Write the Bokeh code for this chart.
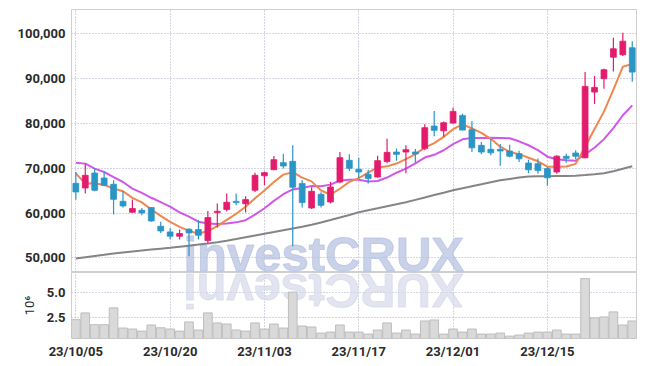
import math
from bokeh.plotting import figure
from bokeh.models import Range1d, FixedTicker, NumeralTickFormatter, Label, ColumnDataSource
from bokeh.layouts import column
from bokeh.embed import file_html
from bokeh.resources import INLINE

# ---------------- data ----------------
tick_idx = [0, 10, 20, 30, 40, 50]
tick_labels = ["23/10/05", "23/10/20", "23/11/03", "23/11/17", "23/12/01", "23/12/15"]

opens = [66650, 65610, 68950, 67840, 66430, 62640, 60190, 60640, 61240, 57070,
         55800, 54840, 56400, 56330, 53880, 60120, 60790, 62640, 62090, 65100,
         68330, 69710, 71270, 71560, 66590, 61150, 64200, 62490, 66950, 71790,
         69780, 68670, 68060, 71500, 73640, 73640, 73640, 74400, 79440, 78370,
         80110, 81820, 78630, 75130, 74240, 74240, 73860, 73280, 71190, 71050,
         69940, 69180, 72680, 73420, 72350, 87020, 90010, 94820, 95360, 96920]
highs = [69180, 71050, 69940, 69180, 67330, 64940, 63020, 61150, 61300, 58070,
         56690, 56330, 56620, 58410, 60480, 62130, 64360, 64360, 63760, 69040,
         69270, 72750, 73280, 75130, 67330, 65770, 64650, 66950, 73640, 73130,
         72390, 69670, 72800, 76630, 74400, 75130, 74300, 79820, 82780, 80480,
         83500, 82200, 80550, 75870, 76630, 75420, 75290, 73950, 71940, 72170,
         70290, 72900, 73280, 74020, 91480, 90630, 92240, 99150, 100260, 98390]
lows = [63000, 64360, 64870, 66000, 59680, 61240, 60100, 59520, 58100, 55580,
        54170, 54100, 50380, 54100, 53210, 56780, 60350, 61750, 60120, 64720,
        66210, 69560, 69940, 52610, 61240, 60930, 61240, 62130, 66660, 69400,
        67770, 66590, 67930, 71120, 71680, 68890, 71230, 74020, 77140, 77030,
        79970, 78480, 73640, 73130, 72900, 70560, 72460, 71410, 68890, 68780,
        66100, 68780, 71230, 72010, 72230, 84340, 87780, 91630, 95090, 89340]
closes = [64720, 68440, 65100, 66210, 63090, 61600, 61020, 60040, 58250, 56020,
          54840, 55440, 55580, 55060, 59010, 60410, 62420, 62350, 63020, 68440,
          69040, 71940, 70520, 65770, 62350, 64870, 61750, 65830, 72390, 70000,
          69180, 67710, 71720, 73570, 73130, 74170, 73190, 79080, 78480, 80190,
          82710, 78540, 74580, 73640, 73460, 73860, 72720, 72120, 69670, 69490,
          67890, 72720, 72230, 72680, 88290, 88070, 92010, 96700, 98390, 91480]
volumes = [2.26, 2.95, 1.75, 1.75, 3.46, 1.41, 1.31, 1.10, 1.72, 1.44,
           1.31, 1.10, 2.03, 1.21, 2.95, 1.93, 1.82, 1.21, 1.10, 1.93,
           1.31, 1.82, 1.41, 5.06, 1.62, 1.52, 0.90, 1.00, 1.72, 1.00,
           1.00, 0.80, 1.21, 1.93, 0.90, 1.21, 0.80, 2.13, 2.23, 0.80,
           1.31, 1.00, 1.31, 0.80, 0.80, 0.90, 0.59, 0.70, 0.90, 1.00,
           1.00, 1.21, 0.80, 0.80, 6.43, 2.44, 2.54, 3.05, 1.72, 2.13]
ma5 = [68890, 66600, 66650, 66300, 65510, 64890, 63400, 62390, 60800, 59380,
       58030, 56920, 56030, 55390, 55990, 57100, 58500, 59850, 61440, 63330,
       65060, 66960, 68590, 69140, 67930, 67090, 65050, 64120, 65440, 66970,
       67830, 69020, 70200, 70440, 71060, 72060, 73160, 74630, 75610, 77020,
       78730, 79800, 78900, 77930, 76590, 74820, 73650, 73160, 72370, 71570,
       70380, 70380, 70400, 71000, 74760, 78800, 82660, 87550, 92690, 93330]
ma10 = [71270, 71050, 69940, 69180, 68060, 66950, 65480, 64540, 63430, 62450,
        61460, 60160, 59210, 58090, 57690, 57570, 57710, 57940, 58420, 59660,
        61080, 62730, 64220, 65290, 65630, 66070, 66010, 66360, 67290, 67450,
        67460, 67040, 67160, 67940, 69020, 69950, 71090, 72410, 73020, 74040,
        75400, 76480, 76760, 76770, 76810, 76770, 76730, 76030, 75150, 74080,
        72600, 72020, 71780, 71690, 73170, 74590, 76520, 78970, 81850, 84050]
ma60 = [49870, 50160, 50450, 50710, 50980, 51230, 51450, 51670, 51870, 52070,
        52270, 52500, 52720, 52970, 53230, 53500, 53840, 54210, 54620, 55000,
        55400, 55780, 56180, 56580, 56980, 57400, 57920, 58450, 59010, 59590,
        60190, 60640, 61080, 61530, 61980, 62420, 62960, 63490, 64030, 64560,
        65100, 65540, 65990, 66430, 66880, 67330, 67640, 67930, 68150, 68220,
        68260, 68290, 68310, 68330, 68490, 68670, 68890, 69330, 69890, 70450]

# ---------------- styling ----------------
UP = "#e31b6d"
DOWN = "#2b95c6"
LBL_FONT = "Roboto"
LBL_SIZE = "13px"
LBL_COLOR = "#2a2a2a"
GRID = "#a9aec6"
PRICE_RANGE = (46744, 105460)
VOL_RANGE = (0.35, 7.05)

idx = list(range(len(closes)))
src = ColumnDataSource(dict(
    x=idx, o=opens, h=highs, l=lows, c=closes,
    top=[max(a, b) for a, b in zip(opens, closes)],
    bot=[min(a, b) for a, b in zip(opens, closes)],
    col=[UP if c >= o else DOWN for o, c in zip(opens, closes)],
    v=volumes, ma5=ma5, ma10=ma10, ma60=ma60,
))

xr = Range1d(-0.46, 59.45)

p = figure(width=640, height=272, x_range=xr, y_range=Range1d(*PRICE_RANGE),
           output_backend="svg", toolbar_location=None, x_axis_location=None,
           min_border_left=71, min_border_right=4, min_border_top=9, min_border_bottom=0)
p.outline_line_color = "#cfcfcf"
p.yaxis.ticker = FixedTicker(ticks=[50000, 60000, 70000, 80000, 90000, 100000])
p.yaxis.formatter = NumeralTickFormatter(format="0,0")
p.yaxis.axis_line_color = None
p.yaxis.major_tick_line_color = None
p.yaxis.minor_tick_line_color = None
p.yaxis.major_tick_out = 0
p.yaxis.major_label_standoff = 6
p.yaxis.major_label_text_font = LBL_FONT
p.yaxis.major_label_text_font_size = LBL_SIZE
p.yaxis.major_label_text_font_style = "bold"
p.yaxis.major_label_text_color = LBL_COLOR
p.xgrid.ticker = FixedTicker(ticks=tick_idx)
for g in (p.xgrid, p.ygrid):
    g.grid_line_color = GRID
    g.grid_line_dash = "1 2"
    g.grid_line_width = 1

# watermark (decoration): letters standing on the bottom edge of the price panel
p.add_layout(Label(x=112, x_units="screen", y=18.5, y_units="screen",
                   text="investCRUX", level="underlay",
                   text_font="Liberation Sans", text_font_style="bold", text_font_size="49px",
                   text_color="#b6c1e1", text_alpha=0.72,
                   text_outline_color="#b6c1e1",
                   text_align="left", text_baseline="alphabetic"))

p.line("x", "ma60", source=src, line_color="#858585", line_width=2)
p.line("x", "ma10", source=src, line_color="#cf58ea", line_width=2)
p.line("x", "ma5", source=src, line_color="#f0874e", line_width=2)
p.segment("x", "h", "x", "l", source=src, line_color="col", line_width=1.2)
p.vbar(x="x", top="top", bottom="bot", width=0.62, source=src,
       fill_color="col", line_color="col", line_width=0.8)

# volume panel
pv = figure(width=640, height=94, x_range=xr, y_range=Range1d(*VOL_RANGE),
            output_backend="svg", toolbar_location=None,
            min_border_left=71, min_border_right=4, min_border_top=0, min_border_bottom=28)
pv.outline_line_color = "#cfcfcf"
pv.yaxis.ticker = FixedTicker(ticks=[2.5, 5.0])
pv.yaxis.formatter = NumeralTickFormatter(format="0.0")
pv.xaxis.ticker = FixedTicker(ticks=tick_idx)
pv.xaxis.major_label_overrides = {i: t for i, t in zip(tick_idx, tick_labels)}
for ax in (pv.xaxis, pv.yaxis):
    ax.axis_line_color = None
    ax.major_tick_line_color = None
    ax.minor_tick_line_color = None
    ax.major_tick_out = 0
    ax.major_label_text_font = LBL_FONT
    ax.major_label_text_font_size = LBL_SIZE
    ax.major_label_text_font_style = "bold"
    ax.major_label_text_color = LBL_COLOR
pv.xaxis.major_label_standoff = 5
pv.yaxis.major_label_standoff = 6
pv.yaxis.axis_label = "10\u2076"
pv.yaxis.axis_label_text_font = "Roboto"
pv.yaxis.axis_label_text_font_style = "normal"
pv.yaxis.axis_label_text_font_size = "13px"
pv.yaxis.axis_label_text_color = LBL_COLOR
pv.yaxis.axis_label_standoff = 7
for g in (pv.xgrid, pv.ygrid):
    g.grid_line_color = GRID
    g.grid_line_dash = "1 2"
    g.grid_line_width = 1

# mirrored watermark hanging from the top edge of the volume panel
pv.add_layout(Label(x=463 - 71, x_units="screen", y=66 - 18.5, y_units="screen",
                    text="XURCtsevni", angle=math.pi, level="underlay",
                    text_font="Liberation Sans", text_font_style="bold",
                    text_font_size="49px", text_color="#d6d9e9", text_alpha=0.7,
                    text_outline_color="#d6d9e9",
                    text_align="left", text_baseline="alphabetic"))
pv.vbar(x="x", top="v", bottom=0, width=0.92, source=src,
        fill_color="#d9d9d9", line_color="#bdbdbd", line_width=1)

lay = column(p, pv, spacing=0)
open("out.html", "w").write(file_html(lay, INLINE))
